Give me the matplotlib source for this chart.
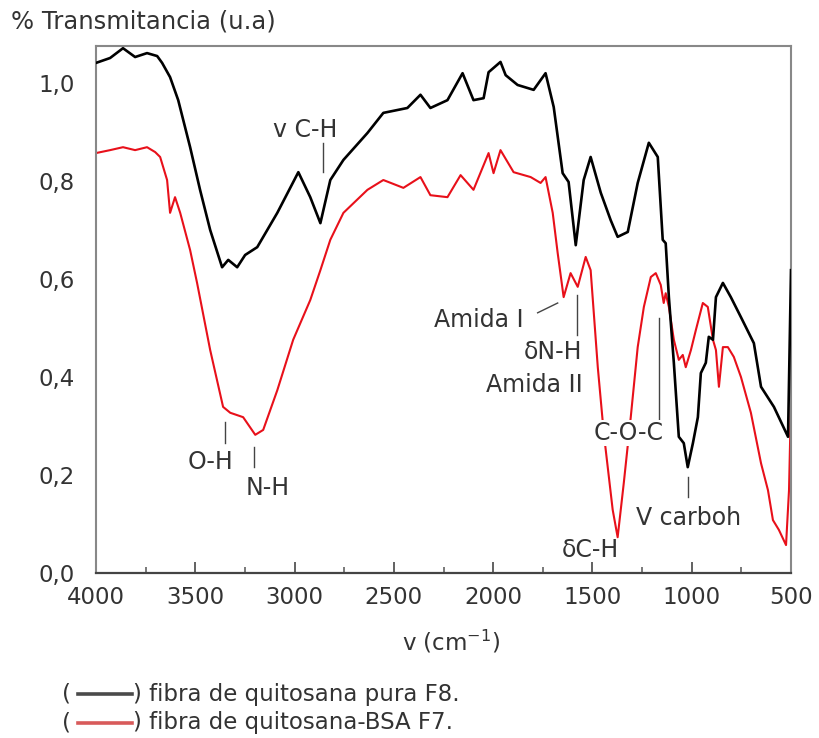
import matplotlib
matplotlib.use("Agg")
import matplotlib.pyplot as plt
from matplotlib.lines import Line2D
from matplotlib.ticker import MultipleLocator, FuncFormatter

# ---- data (wavenumber cm^-1, transmittance a.u.) ----
black_wn = [4000, 3929, 3864, 3803, 3743, 3692, 3667, 3627, 3586, 3526, 3476, 3425,
            3365, 3334, 3289, 3249, 3188, 3087, 2981, 2921, 2870, 2820, 2754, 2633,
            2553, 2432, 2366, 2316, 2230, 2154, 2099, 2048, 2023, 1963, 1937, 1877,
            1796, 1736, 1695, 1650, 1620, 1584, 1544, 1509, 1458, 1408, 1373, 1322,
            1272, 1216, 1171, 1146, 1131, 1115, 1090, 1065, 1040, 1020, 994, 969,
            954, 929, 914, 893, 878, 843, 803, 752, 687, 651, 586, 515, 500]
black_t = [1.041, 1.051, 1.071, 1.053, 1.061, 1.055, 1.041, 1.012, 0.965, 0.869, 0.782, 0.700,
           0.624, 0.639, 0.624, 0.649, 0.665, 0.735, 0.818, 0.767, 0.714, 0.802, 0.843, 0.898,
           0.939, 0.949, 0.976, 0.949, 0.965, 1.020, 0.965, 0.969, 1.022, 1.043, 1.016, 0.996,
           0.986, 1.020, 0.951, 0.816, 0.798, 0.669, 0.802, 0.849, 0.776, 0.720, 0.686, 0.696,
           0.796, 0.878, 0.849, 0.680, 0.673, 0.563, 0.429, 0.278, 0.265, 0.216, 0.265, 0.318,
           0.408, 0.429, 0.482, 0.476, 0.563, 0.592, 0.563, 0.522, 0.469, 0.380, 0.339, 0.278, 0.618]

red_wn = [4000, 3929, 3864, 3803, 3743, 3702, 3677, 3642, 3627, 3602, 3576, 3526,
          3491, 3425, 3360, 3324, 3259, 3198, 3158, 3087, 3007, 2921, 2870, 2820,
          2754, 2633, 2553, 2452, 2366, 2316, 2230, 2164, 2099, 2023, 1998, 1963,
          1897, 1811, 1761, 1736, 1700, 1675, 1645, 1610, 1574, 1534, 1509, 1473,
          1443, 1398, 1373, 1342, 1307, 1272, 1241, 1206, 1181, 1156, 1141, 1131,
          1115, 1090, 1065, 1045, 1030, 1004, 979, 944, 919, 893, 878, 863, 843,
          818, 788, 752, 702, 651, 616, 591, 561, 525, 510, 500]
red_t = [0.857, 0.863, 0.869, 0.863, 0.869, 0.859, 0.849, 0.802, 0.735, 0.767, 0.735, 0.659,
         0.592, 0.455, 0.339, 0.327, 0.318, 0.282, 0.292, 0.373, 0.476, 0.557, 0.618, 0.680,
         0.735, 0.782, 0.802, 0.786, 0.808, 0.771, 0.767, 0.812, 0.782, 0.857, 0.816, 0.863,
         0.818, 0.808, 0.796, 0.808, 0.735, 0.653, 0.563, 0.612, 0.584, 0.645, 0.618, 0.420,
         0.286, 0.129, 0.073, 0.184, 0.318, 0.461, 0.543, 0.604, 0.612, 0.588, 0.551, 0.571,
         0.543, 0.476, 0.435, 0.445, 0.420, 0.455, 0.496, 0.551, 0.543, 0.476, 0.455, 0.380, 0.461,
         0.461, 0.441, 0.400, 0.327, 0.224, 0.169, 0.108, 0.088, 0.057, 0.169, 0.353]

x_ticks = [4000, 3500, 3000, 2500, 2000, 1500, 1000, 500]
y_ticks = [0.0, 0.2, 0.4, 0.6, 0.8, 1.0]

series_labels = ["fibra de quitosana pura F8.", "fibra de quitosana-BSA F7."]

# ---- figure ----
W, H = 819, 738
fig = plt.figure(figsize=(W / 100, H / 100), dpi=100)
ax = fig.add_axes([96 / W, 1 - 573 / H, (791 - 96) / W, (573 - 46) / H])

ax.plot(black_wn, black_t, color="black", lw=1.9, zorder=3)
ax.plot(red_wn, red_t, color="#e8101a", lw=1.5, zorder=2)

ax.set_xlim(4000, 500)
ax.set_ylim(0, 1.0755)
ax.set_xticks(x_ticks)
ax.xaxis.set_minor_locator(MultipleLocator(250))
ax.set_yticks(y_ticks)
ax.yaxis.set_major_formatter(FuncFormatter(lambda v, p: f"{v:.1f}".replace(".", ",")))

FONT = "DejaVu Sans"
for lab in ax.get_xticklabels() + ax.get_yticklabels():
    lab.set_fontfamily(FONT)
    lab.set_fontsize(16.5)
    lab.set_color("#333333")

ax.tick_params(axis="x", which="major", direction="in", length=8, width=1.3,
               color="#555555", pad=9)
ax.tick_params(axis="x", which="minor", direction="in", length=4, width=1.1,
               color="#555555")
ax.tick_params(axis="y", which="both", length=0, pad=15)

for side in ["top", "right", "left"]:
    ax.spines[side].set_color("#888888")
    ax.spines[side].set_linewidth(1.5)
ax.spines["bottom"].set_color("#444444")
ax.spines["bottom"].set_linewidth(1.6)

# ---- annotations ----
txt = dict(fontsize=17, color="#333333", family=FONT)
lc = dict(color="#444444", lw=1.0, zorder=5)

def vline(v, t0, t1):
    ax.plot([v, v], [t0, t1], **lc)

ax.text(2946, 0.904, "v C-H", ha="center", va="center", **txt)
vline(2855, 0.818, 0.878)
ax.text(3425, 0.227, "O-H", ha="center", va="center", **txt)
vline(3349, 0.265, 0.308)
ax.text(3133, 0.173, "N-H", ha="center", va="center", **txt)
vline(3203, 0.216, 0.257)
ax.text(1847, 0.516, "Amida I", ha="right", va="center", **txt)
ax.plot([1776, 1675], [0.531, 0.551], **lc)
ax.text(1549, 0.451, "δN-H", ha="right", va="center", **txt)
vline(1579, 0.486, 0.567)
ax.text(1549, 0.384, "Amida II", ha="right", va="center", **txt)
ax.text(1317, 0.286, "C-O-C", ha="center", va="center", zorder=6,
        bbox=dict(facecolor="white", edgecolor="none", pad=0.5), **txt)
vline(1166, 0.312, 0.520)
ax.text(1509, 0.047, "δC-H", ha="center", va="center", **txt)
ax.text(1015, 0.112, "V carboh", ha="center", va="center", **txt)
vline(1020, 0.155, 0.196)

# ---- axis titles ----
fig.text(11 / W, 1 - 22 / H, "% Transmitancia (u.a)", ha="left", va="center",
         fontsize=17.5, color="#333333", family=FONT)
fig.text(451 / W, 1 - 642 / H, "v (cm$^{-1}$)", ha="center", va="center",
         fontsize=16.5, color="#333333", family=FONT)

# ---- legend (hand-made, as in the original caption) ----
leg_colors = ["#4a4a4a", "#d85a5a"]
leg_y = [694, 723]
for lab, col, yy in zip(series_labels, leg_colors, leg_y):
    yf = 1 - yy / H
    fig.text(62 / W, yf, "(", ha="left", va="center", fontsize=16.5,
             color="#333333", family=FONT)
    fig.add_artist(Line2D([78 / W, 132 / W], [yf, yf], color=col, lw=2.6,
                          transform=fig.transFigure))
    fig.text(133 / W, yf, ") " + lab, ha="left", va="center", fontsize=16.5,
             color="#333333", family=FONT)

fig.savefig("out.png", dpi=100, facecolor="white")
